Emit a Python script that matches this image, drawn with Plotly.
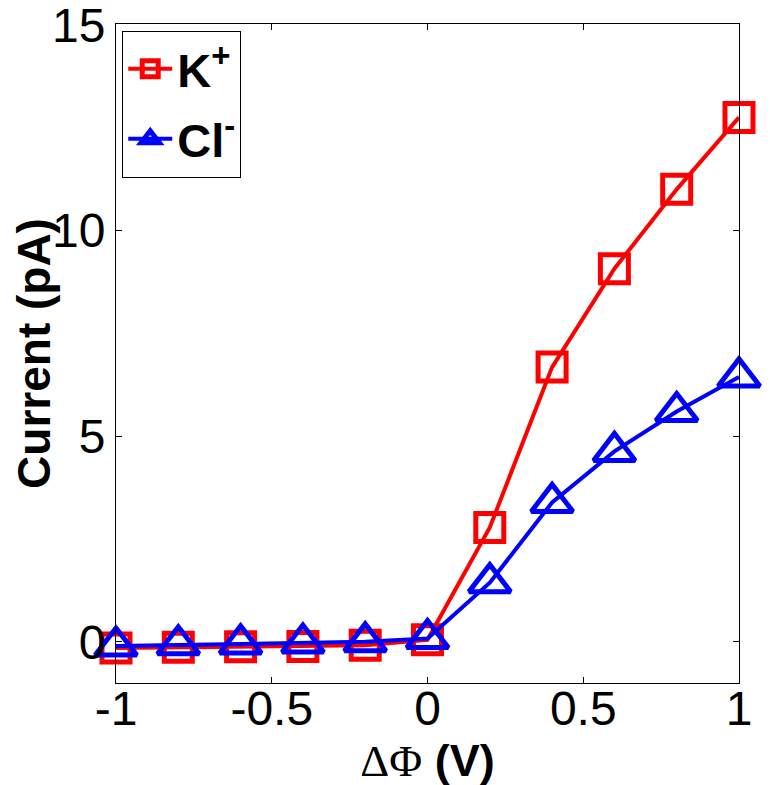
import plotly.graph_objects as go

# bias potential (V)
dphi = [-1.0, -0.8, -0.6, -0.4, -0.2, 0.0, 0.2, 0.4, 0.6, 0.8, 1.0]

# currents (pA)
k_current = [-0.15, -0.13, -0.12, -0.11, -0.08, 0.05, 2.78, 6.68, 9.07, 11.0, 12.75]
cl_current = [-0.1, -0.07, -0.05, -0.03, 0.0, 0.08, 1.44, 3.39, 4.63, 5.6, 6.44]

fig = go.Figure()

fig.add_trace(
    go.Scatter(
        x=dphi,
        y=k_current,
        name="K<sup>+</sup>",
        legendgroup="k",
        mode="lines+markers",
        line=dict(color="#ff0000", width=4),
        marker=dict(symbol="square-open", size=28, color="#ff0000", line=dict(width=5, color="#ff0000")),
        cliponaxis=False,
    )
)
fig.add_trace(
    go.Scatter(
        x=dphi,
        y=cl_current,
        name="Cl<sup>-</sup>",
        legendgroup="cl",
        mode="lines+markers",
        line=dict(color="#0000ff", width=4),
        marker=dict(symbol="triangle-up-open", size=36, color="#0000ff", line=dict(width=5, color="#0000ff")),
        cliponaxis=False,
    )
)

# page body adds an 8px offset, so margins are shifted to compensate
fig.update_layout(
    width=770,
    height=785,
    margin={"l": 108, "r": 39, "t": 16, "b": 110},
    plot_bgcolor="white",
    paper_bgcolor="white",
    font=dict(family="Liberation Sans, Arial, sans-serif", size=48, color="black"),
    legend=dict(
        x=0.01,
        y=0.99,
        xanchor="left",
        yanchor="top",
        bordercolor="black",
        borderwidth=1,
        bgcolor="white",
        font=dict(size=47, weight="bold"),
        itemwidth=44,
        tracegroupgap=6,
    ),
    xaxis=dict(
        range=[-1, 1],
        tickvals=[-1, -0.5, 0, 0.5, 1],
        ticktext=["-1", "-0.5", "0", "0.5", "1"],
        ticks="inside",
        ticklen=6,
        tickcolor="black",
        ticklabelstandoff=-17,
        ticklabeloverflow="allow",
        showline=True,
        linecolor="black",
        linewidth=1,
        mirror="ticks",
        showgrid=False,
        zeroline=False,
        automargin=False,
        title=dict(
            text="<span style='font-family:Liberation Serif;font-weight:normal'>ΔΦ</span> (V)",
            font=dict(size=45, weight="bold"),
            standoff=0,
        ),
    ),
    yaxis=dict(
        range=[-1, 15.02],
        tickvals=[0, 5, 10, 15],
        ticks="inside",
        ticklen=6,
        tickcolor="black",
        ticklabeloverflow="allow",
        showline=True,
        linecolor="black",
        linewidth=1,
        mirror="ticks",
        showgrid=False,
        zeroline=False,
        automargin=False,
        title=dict(text="Current (pA)", font=dict(size=46, weight="bold"), standoff=4),
    ),
)

fig.write_html("out.html")
